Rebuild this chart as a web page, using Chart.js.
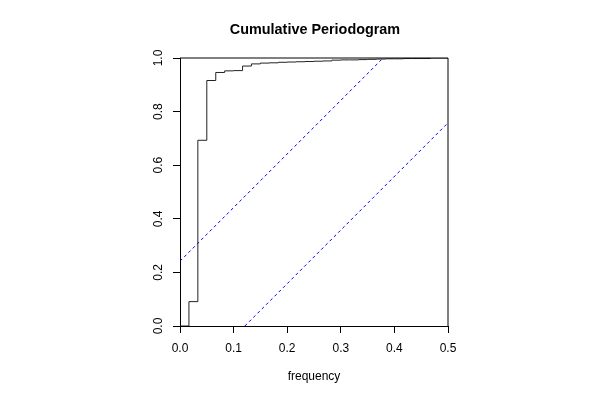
<!DOCTYPE html>
<html>
<head>
<meta charset="utf-8">
<script src="https://cdn.jsdelivr.net/npm/chart.js@4.4.1/dist/chart.umd.min.js"></script>
<style>
  html, body { margin: 0; padding: 0; background: #fff; }
  #wrap { width: 600px; height: 400px; }
</style>
</head>
<body>
<div id="wrap"><canvas id="cpgram"></canvas></div>
<script>
// DATA
const freq = [0, 0.0167, 0.0333, 0.05, 0.0667, 0.0833, 0.1, 0.1167, 0.1333, 0.15,
  0.1667, 0.1833, 0.2, 0.2167, 0.2333, 0.25, 0.2667, 0.2833, 0.3, 0.3167,
  0.3333, 0.35, 0.3667, 0.3833, 0.4, 0.4167, 0.4333, 0.45, 0.4667, 0.4833, 0.5];
const cumPower = [0, 0.091, 0.693, 0.916, 0.946, 0.952, 0.953, 0.970, 0.978, 0.981,
  0.982, 0.984, 0.985, 0.986, 0.987, 0.988, 0.989, 0.992, 0.993, 0.993,
  0.994, 0.995, 0.996, 0.997, 0.997, 0.998, 0.998, 0.998, 1.0, 1.0, 1.0];
// confidence band ends (upper and lower dotted lines)
const upperX = [0, 0.379];
const upperY = [0.242, 1];
const lowerX = [0.121, 0.5];
const lowerY = [0, 0.758];
const xTicks = [0, 0.1, 0.2, 0.3, 0.4, 0.5];
const yTicks = [0, 0.2, 0.4, 0.6, 0.8, 1.0];

const FONT = "'Liberation Sans', Arial, Helvetica, sans-serif";

const toPts = (xs, ys) => xs.map((x, i) => ({ x: x, y: ys[i] }));

// draws the title, the rotated y labels and the top/right frame
const rFrame = {
  id: 'rFrame',
  afterDraw(chart) {
    const ctx = chart.ctx;
    const a = chart.chartArea;
    const ys = chart.scales.y;
    ctx.save();
    ctx.strokeStyle = '#000';
    ctx.lineWidth = 1;
    ctx.beginPath();
    ctx.moveTo(a.left, a.top);
    ctx.lineTo(a.right, a.top);
    ctx.lineTo(a.right, a.bottom);
    ctx.stroke();

    ctx.fillStyle = '#000';
    ctx.font = 'bold 14.4px ' + FONT;
    ctx.textAlign = 'center';
    ctx.textBaseline = 'middle';
    ctx.fillText('Cumulative Periodogram', (a.left + a.right) / 2 + 1, 30.5);

    ctx.font = '12px ' + FONT;
    yTicks.forEach(v => {
      ctx.save();
      ctx.translate(a.left - 21, ys.getPixelForValue(v));
      ctx.rotate(-Math.PI / 2);
      ctx.fillText(v.toFixed(1), 0, 0);
      ctx.restore();
    });
    ctx.restore();
  }
};

new Chart(document.getElementById('cpgram'), {
  type: 'scatter',
  data: {
    datasets: [
      {
        data: toPts(freq, cumPower),
        showLine: true,
        stepped: true,
        borderColor: '#222',
        borderWidth: 1,
        pointRadius: 0
      },
      {
        data: toPts(upperX, upperY),
        showLine: true,
        borderColor: '#0000ff',
        borderWidth: 1,
        borderDash: [3, 3],
        pointRadius: 0
      },
      {
        data: toPts(lowerX, lowerY),
        showLine: true,
        borderColor: '#0000ff',
        borderWidth: 1,
        borderDash: [3, 3],
        pointRadius: 0
      }
    ]
  },
  options: {
    responsive: true,
    maintainAspectRatio: false,
    animation: false,
    layout: { padding: { left: 0, right: 152, top: 58, bottom: 0 } },
    plugins: {
      legend: { display: false },
      tooltip: { enabled: false }
    },
    scales: {
      x: {
        type: 'linear',
        min: 0,
        max: 0.5,
        afterFit: s => { s.height = 74; },
        afterBuildTicks: s => { s.ticks = xTicks.map(v => ({ value: v })); },
        border: { display: true, color: '#000', width: 1 },
        grid: { drawOnChartArea: false, drawTicks: true, tickLength: 7, color: '#000' },
        ticks: {
          padding: 8,
          color: '#000',
          font: { family: FONT, size: 12 },
          maxRotation: 0,
          callback: v => v.toFixed(1)
        },
        title: {
          display: true,
          text: 'frequency',
          color: '#000',
          font: { family: FONT, size: 12 },
          padding: { top: 4, bottom: 16 }
        }
      },
      y: {
        type: 'linear',
        min: 0,
        max: 1,
        afterFit: s => { s.width = 180; },
        afterBuildTicks: s => { s.ticks = yTicks.map(v => ({ value: v })); },
        border: { display: true, color: '#000', width: 1 },
        grid: { drawOnChartArea: false, drawTicks: true, tickLength: 7, color: '#000' },
        ticks: { display: false }
      }
    }
  },
  plugins: [rFrame]
});
</script>
</body>
</html>
